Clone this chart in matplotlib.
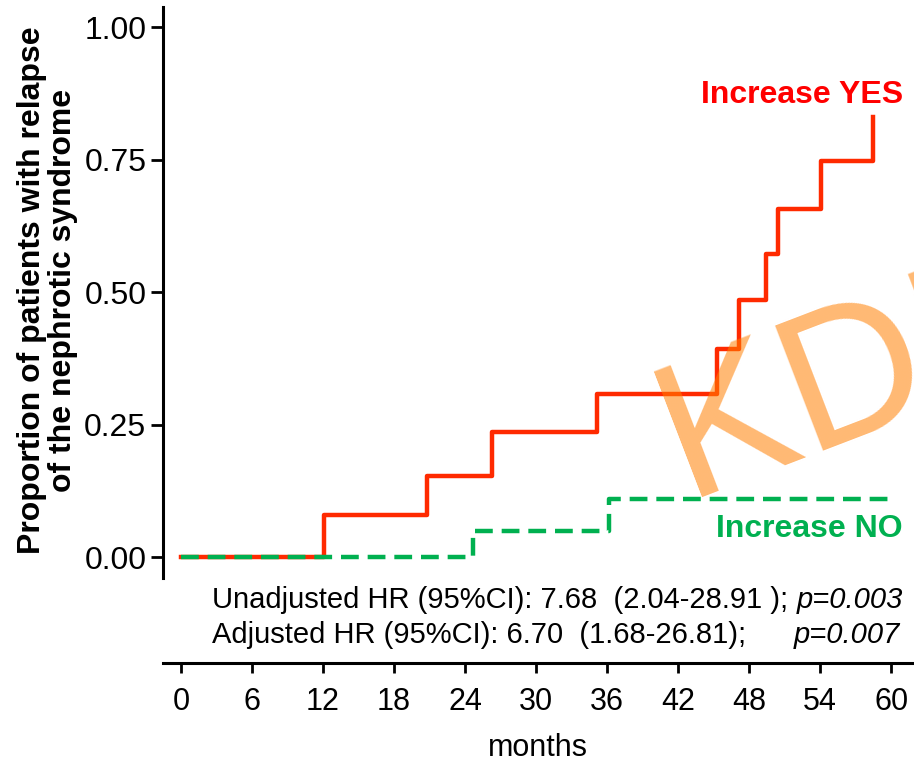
import matplotlib
matplotlib.use("Agg")
import matplotlib.pyplot as plt

plt.rcParams["font.family"] = ["Liberation Sans", "DejaVu Sans"]

# ── Данные ────────────────────────────────────────────────────────────────────
yes_months = [0, 12.1, 20.8, 26.3, 35.1, 45.3, 47.15, 49.4, 50.45, 54.1, 58.45]
yes_prop = [0, 0.079, 0.153, 0.235, 0.308, 0.393, 0.485, 0.572, 0.657, 0.747, 0.830]

no_months = [0, 24.65, 36.15, 60]
no_prop = [0, 0.050, 0.109, 0.109]

x_ticks = [0, 6, 12, 18, 24, 30, 36, 42, 48, 54, 60]
y_ticks = [0.0, 0.25, 0.5, 0.75, 1.0]

hr_lines = [
    ("Unadjusted HR (95%CI): 7.68  (2.04-28.91 ); ", "p=0.003"),
    ("Adjusted HR (95%CI): 6.70  (1.68-26.81);", "p=0.007"),
]

RED = "#FF2A00"
GREEN = "#00B050"

W, H = 914, 767
fig = plt.figure(figsize=(W / 100, H / 100), dpi=100)

# оси: левый край 163px, правый 912px, верх 7.5px, низ 663px
ax = fig.add_axes([163 / W, 1 - 663 / H, (912 - 163) / W, (663 - 7.5) / H])
ax.set_xlim(-1.52, 61.75)
ax.set_ylim(-0.2, 1.0368)

ax.step(yes_months, yes_prop, where="post", color=RED, lw=3.2)
ax.step(no_months, no_prop, where="post", color=GREEN, lw=3.2, dashes=(4, 2))

ax.spines["top"].set_visible(False)
ax.spines["right"].set_visible(False)
ax.spines["left"].set_bounds(-0.04, 1.0368)
for s in ("left", "bottom"):
    ax.spines[s].set_linewidth(2.2)

ax.set_xticks(x_ticks)
ax.set_xticklabels([str(t) for t in x_ticks], fontsize=22)
ax.set_yticks(y_ticks)
ax.set_yticklabels([f"{v:.2f}" for v in y_ticks], fontsize=23)
ax.tick_params(axis="x", length=7, width=2, pad=10)
ax.tick_params(axis="y", length=9, width=2, pad=3)

ax.set_xlabel("months", fontsize=22, labelpad=12)
ax.set_ylabel("Proportion of patients with relapse\nof the nephrotic syndrome",
              fontsize=23, fontweight="bold", linespacing=1.05)
# правый край подписи ~77px, центр по высоте ~290px
ax.yaxis.set_label_coords(-0.113, 0.569)

# подписи кривых
fig.text(903 / W, 1 - 103 / H, "Increase YES", color="#FF0000", fontsize=23,
         fontweight="bold", ha="right", va="baseline")
fig.text(903 / W, 1 - 537 / H, "Increase NO", color=GREEN, fontsize=23,
         fontweight="bold", ha="right", va="baseline")

# HR и p-значения
p1 = fig.text(903 / W, 1 - 608 / H, hr_lines[0][1], fontsize=21, style="italic",
              ha="right", va="baseline")
ax.annotate(hr_lines[0][0], xy=(0, 0), xycoords=p1, fontsize=21,
            ha="right", va="bottom", annotation_clip=False)
fig.text(212 / W, 1 - 643 / H, hr_lines[1][0], fontsize=21, ha="left", va="baseline")
fig.text(900 / W, 1 - 643 / H, hr_lines[1][1], fontsize=21, style="italic",
         ha="right", va="baseline")

# водяной знак
fig.text(686 / W, 1 - 497 / H, "KDIGO", fontsize=140, color="#FF7F00", alpha=0.55,
         rotation=21, rotation_mode="anchor", ha="left", va="baseline", zorder=10)

fig.savefig("out.png", dpi=100)
